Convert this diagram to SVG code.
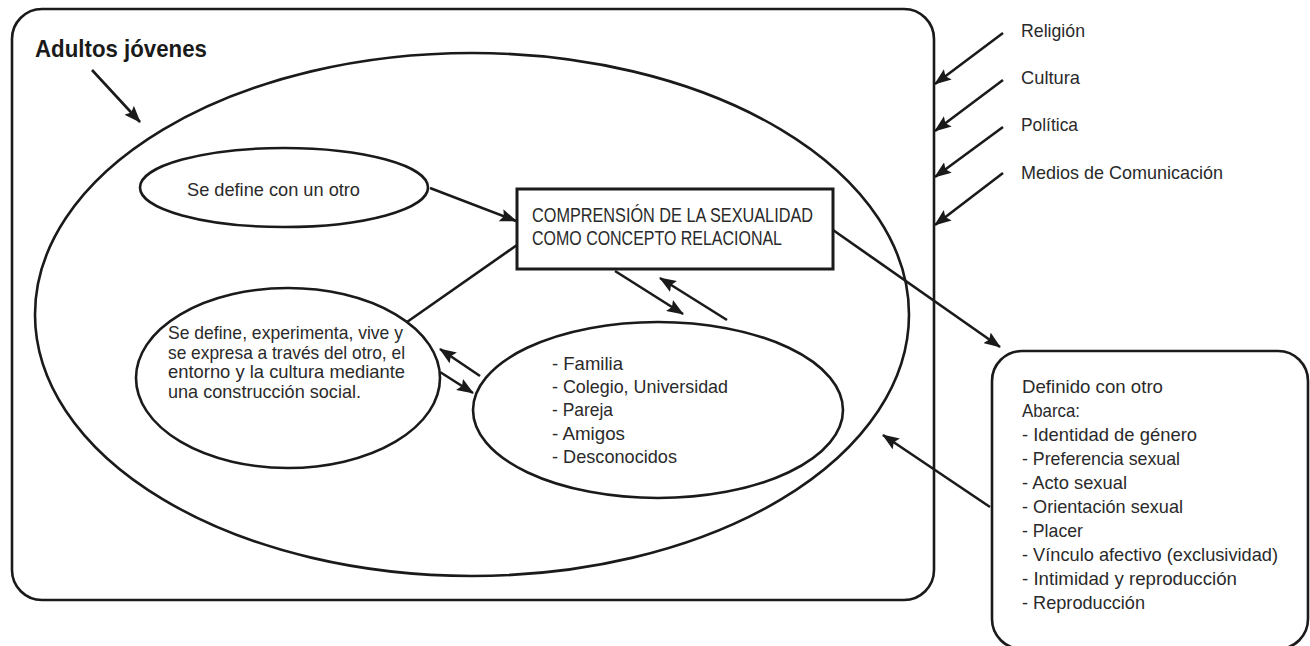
<svg xmlns="http://www.w3.org/2000/svg" width="1310" height="646" viewBox="0 0 1310 646">
<style>
.shape{fill:none;stroke:#1a1a1a;stroke-width:2.6}
.box{fill:#fff;stroke:#1a1a1a;stroke-width:3}
.conn line{stroke:#1a1a1a;stroke-width:2.6}
text{font-family:"Liberation Sans",Arial,sans-serif;font-size:19px;fill:#2a2a2a}
.title{font-weight:bold;font-size:24px;fill:#1a1a1a}
.caps{font-size:20px}
</style>
<defs>
<marker id="ah" viewBox="0 0 17 13" refX="16" refY="6.5" markerWidth="17" markerHeight="13" markerUnits="userSpaceOnUse" orient="auto">
<path d="M0,0 L17,6.5 L0,13 L3,6.5 z" fill="#1a1a1a"/>
</marker>
</defs>
<rect width="1310" height="646" fill="#fff"/>

<g id="adultos">
<rect class="shape" x="12" y="9" width="922" height="591" rx="30" ry="30"/>
<text class="title" x="35" y="57" textLength="172" lengthAdjust="spacingAndGlyphs">Adultos jóvenes</text>
</g>

<g id="contexto">
<ellipse class="shape" cx="472" cy="314.5" rx="437" ry="261.5"/>
</g>

<g id="se-define-otro">
<ellipse class="shape" cx="284" cy="187.5" rx="144" ry="39.5"/>
<text x="187" y="196" textLength="173" lengthAdjust="spacingAndGlyphs">Se define con un otro</text>
</g>

<g id="comprension">
<rect class="box" x="517" y="189" width="316" height="80"/>
<text class="caps" x="532" y="222" textLength="281" lengthAdjust="spacingAndGlyphs">COMPRENSIÓN DE LA SEXUALIDAD</text>
<text class="caps" x="532" y="245" textLength="250" lengthAdjust="spacingAndGlyphs">COMO CONCEPTO RELACIONAL</text>
</g>

<g id="se-define-experimenta">
<ellipse class="shape" cx="288" cy="378" rx="152" ry="90"/>
<text x="168" y="339" textLength="235" lengthAdjust="spacingAndGlyphs">Se define, experimenta, vive y</text>
<text x="168" y="358.5" textLength="237" lengthAdjust="spacingAndGlyphs">se expresa a través del otro, el</text>
<text x="168" y="378" textLength="237" lengthAdjust="spacingAndGlyphs">entorno y la cultura mediante</text>
<text x="168" y="397.5" textLength="193" lengthAdjust="spacingAndGlyphs">una construcción social.</text>
</g>

<g id="entornos">
<ellipse class="shape" cx="658" cy="410" rx="185" ry="88"/>
<text x="552" y="370" textLength="71" lengthAdjust="spacingAndGlyphs">- Familia</text>
<text x="552" y="393" textLength="176" lengthAdjust="spacingAndGlyphs">- Colegio, Universidad</text>
<text x="552" y="416" textLength="61" lengthAdjust="spacingAndGlyphs">- Pareja</text>
<text x="552" y="440" textLength="73" lengthAdjust="spacingAndGlyphs">- Amigos</text>
<text x="552" y="463" textLength="125" lengthAdjust="spacingAndGlyphs">- Desconocidos</text>
</g>

<g id="definido">
<rect class="shape" x="992" y="351" width="316" height="298" rx="30" ry="30"/>
<text x="1022" y="393" textLength="141" lengthAdjust="spacingAndGlyphs">Definido con otro</text>
<text x="1022" y="417" textLength="58" lengthAdjust="spacingAndGlyphs">Abarca:</text>
<text x="1022" y="441" textLength="175" lengthAdjust="spacingAndGlyphs">- Identidad de género</text>
<text x="1022" y="465" textLength="158" lengthAdjust="spacingAndGlyphs">- Preferencia sexual</text>
<text x="1022" y="489" textLength="105" lengthAdjust="spacingAndGlyphs">- Acto sexual</text>
<text x="1022" y="513" textLength="161" lengthAdjust="spacingAndGlyphs">- Orientación sexual</text>
<text x="1022" y="537" textLength="61" lengthAdjust="spacingAndGlyphs">- Placer</text>
<text x="1022" y="561" textLength="256" lengthAdjust="spacingAndGlyphs">- Vínculo afectivo (exclusividad)</text>
<text x="1022" y="585" textLength="215" lengthAdjust="spacingAndGlyphs">- Intimidad y reproducción</text>
<text x="1022" y="609" textLength="123" lengthAdjust="spacingAndGlyphs">- Reproducción</text>
</g>

<g id="influencias">
<text x="1021" y="37" textLength="64" lengthAdjust="spacingAndGlyphs">Religión</text>
<text x="1021" y="84" textLength="59" lengthAdjust="spacingAndGlyphs">Cultura</text>
<text x="1021" y="131" textLength="57" lengthAdjust="spacingAndGlyphs">Política</text>
<text x="1021" y="179" textLength="202" lengthAdjust="spacingAndGlyphs">Medios de Comunicación</text>
</g>

<g id="connectors" class="conn">
<line x1="92" y1="70" x2="140" y2="122" marker-end="url(#ah)"/>
<line x1="1003" y1="33" x2="935" y2="84" marker-end="url(#ah)"/>
<line x1="1003" y1="80" x2="935" y2="131" marker-end="url(#ah)"/>
<line x1="1003" y1="127" x2="935" y2="177" marker-end="url(#ah)"/>
<line x1="1003" y1="173" x2="935" y2="225" marker-end="url(#ah)"/>
<line x1="430" y1="188" x2="516" y2="221" marker-end="url(#ah)"/>
<line x1="517" y1="245" x2="407" y2="322"/>
<line x1="615" y1="271" x2="683" y2="314" marker-end="url(#ah)"/>
<line x1="727" y1="320" x2="660" y2="278" marker-end="url(#ah)"/>
<line x1="480" y1="376" x2="440" y2="349" marker-end="url(#ah)"/>
<line x1="440" y1="372" x2="473" y2="393" marker-end="url(#ah)"/>
<line x1="833" y1="230" x2="1000" y2="347" marker-end="url(#ah)"/>
<line x1="990" y1="507" x2="883" y2="435" marker-end="url(#ah)"/>
</g>
</svg>
